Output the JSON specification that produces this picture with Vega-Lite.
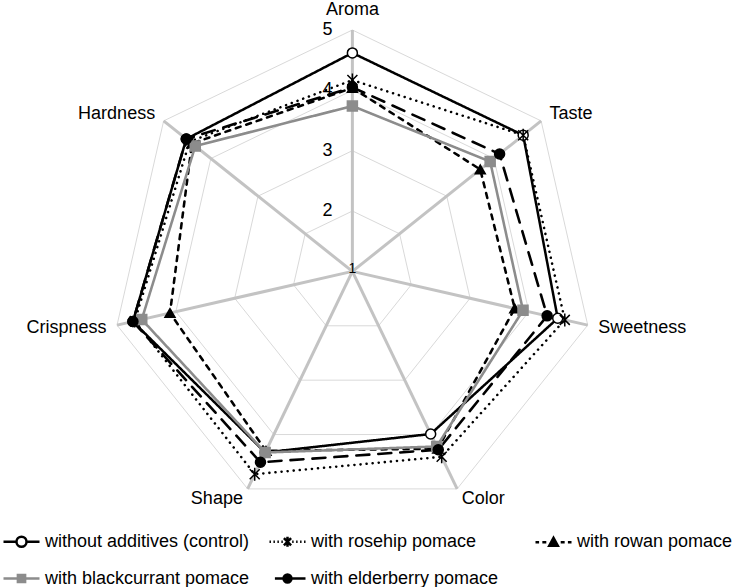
{
  "$schema": "https://vega.github.io/schema/vega-lite/v6.json",
  "width": 742,
  "height": 587,
  "padding": 0,
  "autosize": "none",
  "background": "white",
  "config": {"view": {"stroke": null}, "font": "Liberation Sans", "text": {"font": "Liberation Sans"}},
  "datasets": {
    "scores": [
      {"attr": "Aroma", "series": "without additives (control)", "value": 4.62},
      {"attr": "Taste", "series": "without additives (control)", "value": 4.62},
      {"attr": "Sweetness", "series": "without additives (control)", "value": 4.49},
      {"attr": "Color", "series": "without additives (control)", "value": 3.99},
      {"attr": "Shape", "series": "without additives (control)", "value": 4.33},
      {"attr": "Crispness", "series": "without additives (control)", "value": 4.73},
      {"attr": "Hardness", "series": "without additives (control)", "value": 4.52},
      {"attr": "Aroma", "series": "with rosehip pomace", "value": 4.17},
      {"attr": "Taste", "series": "with rosehip pomace", "value": 4.62},
      {"attr": "Sweetness", "series": "with rosehip pomace", "value": 4.61},
      {"attr": "Color", "series": "with rosehip pomace", "value": 4.41},
      {"attr": "Shape", "series": "with rosehip pomace", "value": 4.73},
      {"attr": "Crispness", "series": "with rosehip pomace", "value": 4.70},
      {"attr": "Hardness", "series": "with rosehip pomace", "value": 4.45},
      {"attr": "Aroma", "series": "with rowan pomace", "value": 4.04},
      {"attr": "Taste", "series": "with rowan pomace", "value": 3.71},
      {"attr": "Sweetness", "series": "with rowan pomace", "value": 3.76},
      {"attr": "Color", "series": "with rowan pomace", "value": 4.26},
      {"attr": "Shape", "series": "with rowan pomace", "value": 4.30},
      {"attr": "Crispness", "series": "with rowan pomace", "value": 4.10},
      {"attr": "Hardness", "series": "with rowan pomace", "value": 4.40},
      {"attr": "Aroma", "series": "with blackcurrant pomace", "value": 3.74},
      {"attr": "Taste", "series": "with blackcurrant pomace", "value": 3.92},
      {"attr": "Sweetness", "series": "with blackcurrant pomace", "value": 3.90},
      {"attr": "Color", "series": "with blackcurrant pomace", "value": 4.22},
      {"attr": "Shape", "series": "with blackcurrant pomace", "value": 4.33},
      {"attr": "Crispness", "series": "with blackcurrant pomace", "value": 4.58},
      {"attr": "Hardness", "series": "with blackcurrant pomace", "value": 4.33},
      {"attr": "Aroma", "series": "with elderberry pomace", "value": 4.05},
      {"attr": "Taste", "series": "with elderberry pomace", "value": 4.12},
      {"attr": "Sweetness", "series": "with elderberry pomace", "value": 4.31},
      {"attr": "Color", "series": "with elderberry pomace", "value": 4.28},
      {"attr": "Shape", "series": "with elderberry pomace", "value": 4.51},
      {"attr": "Crispness", "series": "with elderberry pomace", "value": 4.73},
      {"attr": "Hardness", "series": "with elderberry pomace", "value": 4.52}
    ],
    "axes": [
      {"attr": "Aroma"}, {"attr": "Taste"}, {"attr": "Sweetness"}, {"attr": "Color"},
      {"attr": "Shape"}, {"attr": "Crispness"}, {"attr": "Hardness"}
    ],
    "grid": [
      {"attr": "Aroma", "level": 2}, {"attr": "Taste", "level": 2}, {"attr": "Sweetness", "level": 2}, {"attr": "Color", "level": 2}, {"attr": "Shape", "level": 2}, {"attr": "Crispness", "level": 2}, {"attr": "Hardness", "level": 2},
      {"attr": "Aroma", "level": 3}, {"attr": "Taste", "level": 3}, {"attr": "Sweetness", "level": 3}, {"attr": "Color", "level": 3}, {"attr": "Shape", "level": 3}, {"attr": "Crispness", "level": 3}, {"attr": "Hardness", "level": 3},
      {"attr": "Aroma", "level": 4}, {"attr": "Taste", "level": 4}, {"attr": "Sweetness", "level": 4}, {"attr": "Color", "level": 4}, {"attr": "Shape", "level": 4}, {"attr": "Crispness", "level": 4}, {"attr": "Hardness", "level": 4},
      {"attr": "Aroma", "level": 5}, {"attr": "Taste", "level": 5}, {"attr": "Sweetness", "level": 5}, {"attr": "Color", "level": 5}, {"attr": "Shape", "level": 5}, {"attr": "Crispness", "level": 5}, {"attr": "Hardness", "level": 5}
    ],
    "ticks": [{"level": 1}, {"level": 2}, {"level": 3}, {"level": 4}, {"level": 5}]
  },
  "layer": [
    {
      "data": {"name": "grid"},
      "transform": [
        {"calculate": "indexof(['Aroma','Taste','Sweetness','Color','Shape','Crispness','Hardness'], datum.attr)", "as": "k"},
        {"calculate": "2*PI*datum.k/7", "as": "theta"},
        {"calculate": "(datum.level-1)*sin(datum.theta)", "as": "px"},
        {"calculate": "(datum.level-1)*cos(datum.theta)", "as": "py"}
      ],
      "mark": {"type": "line", "interpolate": "linear-closed", "color": "#d9d9d9", "strokeWidth": 1},
      "encoding": {
        "x": {"field": "px", "type": "quantitative", "scale": {"domain": [-5.839, 6.456], "nice": false, "zero": false}, "axis": null},
        "y": {"field": "py", "type": "quantitative", "scale": {"domain": [-5.229, 4.497], "nice": false, "zero": false}, "axis": null},
        "detail": {"field": "level", "type": "nominal"},
        "order": {"field": "k", "type": "quantitative"}
      }
    },
    {
      "data": {"name": "axes"},
      "transform": [
        {"calculate": "indexof(['Aroma','Taste','Sweetness','Color','Shape','Crispness','Hardness'], datum.attr)", "as": "k"},
        {"calculate": "2*PI*datum.k/7", "as": "theta"},
        {"calculate": "0", "as": "zx"},
        {"calculate": "0", "as": "zy"},
        {"calculate": "4*sin(datum.theta)", "as": "px"},
        {"calculate": "4*cos(datum.theta)", "as": "py"}
      ],
      "mark": {"type": "rule", "color": "#c3c3c3", "strokeWidth": 3},
      "encoding": {
        "x": {"field": "zx", "type": "quantitative"},
        "y": {"field": "zy", "type": "quantitative"},
        "x2": {"field": "px"},
        "y2": {"field": "py"}
      }
    },
    {
      "data": {"name": "ticks"},
      "transform": [
        {"filter": "datum.level >= 2"},
        {"calculate": "0", "as": "px"},
        {"calculate": "datum.level-1", "as": "py"}
      ],
      "mark": {"type": "text", "fontSize": 18, "dx": -25, "align": "center", "baseline": "middle", "color": "black"},
      "encoding": {
        "x": {"field": "px", "type": "quantitative"},
        "y": {"field": "py", "type": "quantitative"},
        "text": {"field": "level", "type": "nominal"}
      }
    },
    {
      "data": {"name": "ticks"},
      "transform": [
        {"filter": "datum.level == 1"},
        {"calculate": "0", "as": "px"},
        {"calculate": "datum.level-1", "as": "py"}
      ],
      "mark": {"type": "text", "fontSize": 14, "dx": 0, "dy": -2, "align": "center", "baseline": "middle", "color": "black"},
      "encoding": {
        "x": {"field": "px", "type": "quantitative"},
        "y": {"field": "py", "type": "quantitative"},
        "text": {"field": "level", "type": "nominal"}
      }
    },
    {
      "data": {"name": "axes"},
      "transform": [
        {"filter": "datum.attr == 'Aroma'"},
        {"calculate": "0", "as": "px"},
        {"calculate": "4.18", "as": "py"}
      ],
      "mark": {"type": "text", "fontSize": 18, "align": "center", "baseline": "bottom", "color": "black"},
      "encoding": {
        "x": {"field": "px", "type": "quantitative"},
        "y": {"field": "py", "type": "quantitative"},
        "text": {"field": "attr", "type": "nominal"}
      }
    },
    {
      "data": {"name": "axes"},
      "transform": [
        {"filter": "indexof(['Taste','Sweetness','Color'], datum.attr) >= 0"},
        {"calculate": "indexof(['Aroma','Taste','Sweetness','Color','Shape','Crispness','Hardness'], datum.attr)", "as": "k"},
        {"calculate": "2*PI*datum.k/7", "as": "theta"},
        {"calculate": "4.18*sin(datum.theta)", "as": "px"},
        {"calculate": "4.18*cos(datum.theta)", "as": "py"}
      ],
      "mark": {"type": "text", "fontSize": 18, "align": "left", "baseline": "middle", "color": "black"},
      "encoding": {
        "x": {"field": "px", "type": "quantitative"},
        "y": {"field": "py", "type": "quantitative"},
        "text": {"field": "attr", "type": "nominal"}
      }
    },
    {
      "data": {"name": "axes"},
      "transform": [
        {"filter": "indexof(['Shape','Crispness','Hardness'], datum.attr) >= 0"},
        {"calculate": "indexof(['Aroma','Taste','Sweetness','Color','Shape','Crispness','Hardness'], datum.attr)", "as": "k"},
        {"calculate": "2*PI*datum.k/7", "as": "theta"},
        {"calculate": "4.18*sin(datum.theta)", "as": "px"},
        {"calculate": "4.18*cos(datum.theta)", "as": "py"}
      ],
      "mark": {"type": "text", "fontSize": 18, "align": "right", "baseline": "middle", "color": "black"},
      "encoding": {
        "x": {"field": "px", "type": "quantitative"},
        "y": {"field": "py", "type": "quantitative"},
        "text": {"field": "attr", "type": "nominal"}
      }
    },
    {
      "data": {"name": "scores"},
      "transform": [
        {"calculate": "indexof(['Aroma','Taste','Sweetness','Color','Shape','Crispness','Hardness'], datum.attr)", "as": "k"},
        {"calculate": "2*PI*datum.k/7", "as": "theta"},
        {"calculate": "(datum.value-1)*sin(datum.theta)", "as": "px"},
        {"calculate": "(datum.value-1)*cos(datum.theta)", "as": "py"}
      ],
      "mark": {"type": "line", "interpolate": "linear-closed", "strokeCap": "round"},
      "encoding": {
        "x": {"field": "px", "type": "quantitative"},
        "y": {"field": "py", "type": "quantitative"},
        "order": {"field": "k", "type": "quantitative"},
        "stroke": {"field": "series", "type": "nominal", "legend": null,
          "scale": {"domain": ["without additives (control)", "with rosehip pomace", "with rowan pomace", "with blackcurrant pomace", "with elderberry pomace"],
                    "range": ["black", "black", "black", "#8c8c8c", "black"]}},
        "strokeDash": {"field": "series", "type": "nominal", "legend": null,
          "scale": {"domain": ["without additives (control)", "with rosehip pomace", "with rowan pomace", "with blackcurrant pomace", "with elderberry pomace"],
                    "range": [[1, 0], [0.1, 6], [5, 6], [1, 0], [13, 9]]}},
        "strokeWidth": {"field": "series", "type": "ordinal", "legend": null,
          "scale": {"domain": ["without additives (control)", "with rosehip pomace", "with rowan pomace", "with blackcurrant pomace", "with elderberry pomace"],
                    "range": [2.5, 2.6, 2.2, 3, 2.5]}}
      }
    },
    {
      "data": {"name": "scores"},
      "transform": [
        {"calculate": "indexof(['Aroma','Taste','Sweetness','Color','Shape','Crispness','Hardness'], datum.attr)", "as": "k"},
        {"calculate": "2*PI*datum.k/7", "as": "theta"},
        {"calculate": "(datum.value-1)*sin(datum.theta)", "as": "px"},
        {"calculate": "(datum.value-1)*cos(datum.theta)", "as": "py"}
      ],
      "mark": {"type": "point", "size": 100, "strokeWidth": 1.5, "opacity": 1},
      "encoding": {
        "x": {"field": "px", "type": "quantitative"},
        "y": {"field": "py", "type": "quantitative"},
        "shape": {"field": "series", "type": "nominal", "legend": null,
          "scale": {"domain": ["without additives (control)", "with rosehip pomace", "with rowan pomace", "with blackcurrant pomace", "with elderberry pomace"],
                    "range": ["circle", "M-1,-1L1,1M-1,1L1,-1M0,-1.3L0,1.3", "triangle-up", "square", "circle"]}},
        "fill": {"field": "series", "type": "nominal", "legend": null,
          "scale": {"domain": ["without additives (control)", "with rosehip pomace", "with rowan pomace", "with blackcurrant pomace", "with elderberry pomace"],
                    "range": ["white", "transparent", "black", "#8c8c8c", "black"]}},
        "stroke": {"field": "series", "type": "nominal", "legend": null,
          "scale": {"domain": ["without additives (control)", "with rosehip pomace", "with rowan pomace", "with blackcurrant pomace", "with elderberry pomace"],
                    "range": ["black", "black", "black", "#8c8c8c", "black"]}}
      }
    },
    {
      "data": {"name": "scores"},
      "transform": [
        {"calculate": "indexof(['Aroma','Taste','Sweetness','Color','Shape','Crispness','Hardness'], datum.attr)", "as": "k"},
        {"calculate": "2*PI*datum.k/7", "as": "theta"},
        {"calculate": "(datum.value-1)*sin(datum.theta)", "as": "px"},
        {"calculate": "(datum.value-1)*cos(datum.theta)", "as": "py"}
      ],
      "mark": {"type": "point", "opacity": 0},
      "encoding": {
        "x": {"field": "px", "type": "quantitative"},
        "y": {"field": "py", "type": "quantitative"},
        "shape": {"field": "series", "type": "nominal",
          "scale": {"domain": ["without additives (control)", "with blackcurrant pomace", "with rosehip pomace", "with elderberry pomace", "with rowan pomace"],
                    "range": [
                      "M-1,0L-0.28,0M0.28,0L1,0M-0.28,0A0.28,0.28 0 1,1 0.28,0A0.28,0.28 0 1,1 -0.28,0Z",
                      "M-1,0L1,0M-0.2,-0.2L0.2,-0.2L0.2,0.2L-0.2,0.2ZM-0.1,-0.1L0.1,-0.1L0.1,0.1L-0.1,0.1ZM-0.02,-0.02L0.02,-0.02L0.02,0.02L-0.02,0.02Z",
                      "M-1,0L-0.92,0M-0.78,0L-0.7,0M-0.56,0L-0.48,0M-0.34,0L-0.26,0M0.26,0L0.34,0M0.48,0L0.56,0M0.7,0L0.78,0M0.92,0L1,0M-0.2,-0.2L0.2,0.2M-0.2,0.2L0.2,-0.2M0,-0.28L0,0.28",
                      "M-0.7,0L1,0M-0.22,0A0.22,0.22 0 1,1 0.22,0A0.22,0.22 0 1,1 -0.22,0ZM-0.12,0A0.12,0.12 0 1,1 0.12,0A0.12,0.12 0 1,1 -0.12,0ZM-0.03,0A0.03,0.03 0 1,1 0.03,0A0.03,0.03 0 1,1 -0.03,0Z",
                      "M-1,0L-0.8,0M-0.62,0L-0.4,0M0.4,0L0.62,0M0.8,0L1,0M-0.24,0.2L0,-0.24L0.24,0.2ZM-0.12,0.12L0,-0.1L0.12,0.12ZM-0.04,0.07L0,0.01L0.04,0.07Z"
                    ]},
          "legend": {"orient": "none", "legendX": 2, "legendY": 522, "columns": 3, "gridAlign": "all", "columnPadding": 14, "rowPadding": 7, "symbolSize": 1296, "symbolStrokeWidth": 2.5, "labelFontSize": 18, "labelFont": "Liberation Sans", "labelColor": "black", "labelOffset": 4, "labelLimit": 320, "title": null}},
        "stroke": {"field": "series", "type": "nominal",
          "scale": {"domain": ["without additives (control)", "with blackcurrant pomace", "with rosehip pomace", "with elderberry pomace", "with rowan pomace"],
                    "range": ["black", "#8c8c8c", "black", "black", "black"]},
          "legend": {"orient": "none", "legendX": 2, "legendY": 522, "columns": 3, "gridAlign": "all", "columnPadding": 14, "rowPadding": 7, "symbolSize": 1296, "symbolStrokeWidth": 2.5, "labelFontSize": 18, "labelFont": "Liberation Sans", "labelColor": "black", "labelOffset": 4, "labelLimit": 320, "title": null}}
      }
    }
  ],
  "resolve": {"scale": {"shape": "independent", "fill": "independent", "stroke": "independent"}}
}
